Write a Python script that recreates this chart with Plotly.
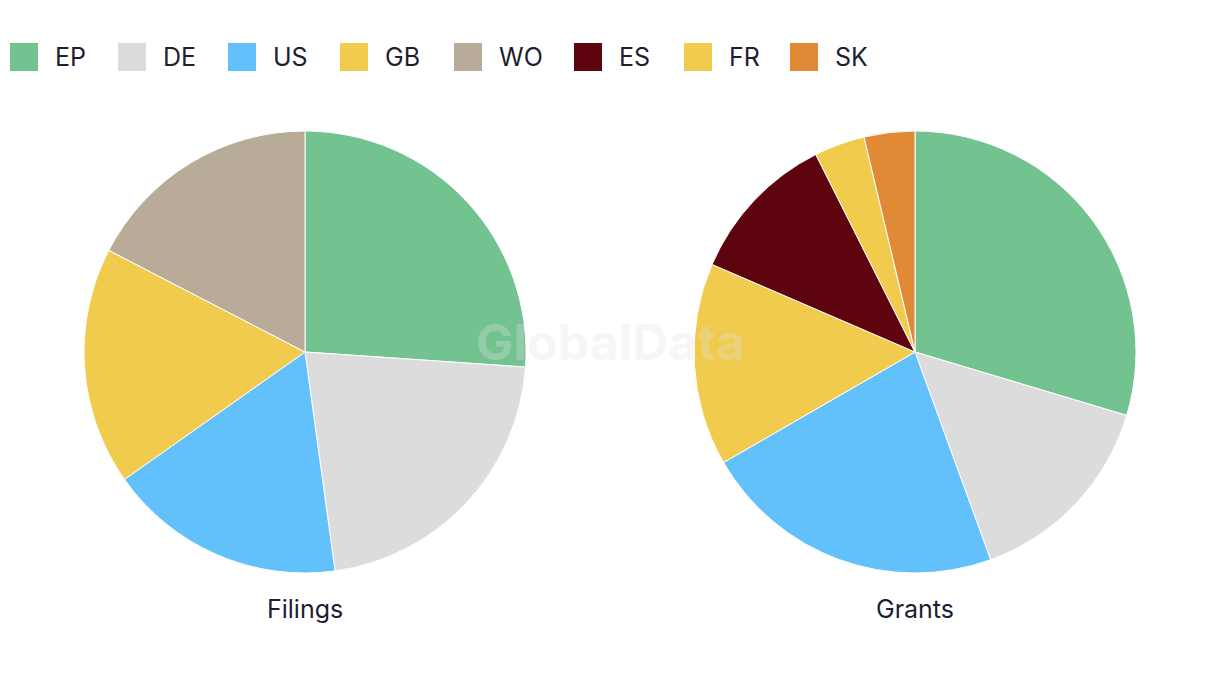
import plotly.graph_objects as go

W, H = 1220, 686
OFF = 8  # page body margin

filings_labels = ["EP", "DE", "US", "GB", "WO"]
filings_values = [6, 5, 4, 4, 4]
grants_labels = ["EP", "DE", "US", "GB", "ES", "FR", "SK"]
grants_values = [8, 4, 6, 4, 3, 1, 1]

legend_labels = ["EP", "DE", "US", "GB", "WO", "ES", "FR", "SK"]
legend_colors = ["#73c391", "#dcdcdc", "#62c0fa", "#f0cb4e", "#b8ab98", "#5e040f", "#f0cb4e", "#e08a36"]
color_map = dict(zip(legend_labels, legend_colors))

FONT = "Inter, Roboto, sans-serif"
TXT = "#1e1e32"

def px_x(p):
    return (p - OFF) / W

def px_y(p):
    return 1 - (p - OFF) / H

fig = go.Figure()

fig.add_trace(go.Pie(
    labels=filings_labels, values=filings_values,
    marker=dict(colors=[color_map[l] for l in filings_labels], line=dict(color="white", width=1)),
    sort=False, direction="clockwise", rotation=0, textinfo="none",
    hoverinfo="label+value", showlegend=False,
    domain=dict(x=[px_x(84), px_x(526)], y=[px_y(573), px_y(131)]),
))
fig.add_trace(go.Pie(
    labels=grants_labels, values=grants_values,
    marker=dict(colors=[color_map[l] for l in grants_labels], line=dict(color="white", width=1)),
    sort=False, direction="clockwise", rotation=0, textinfo="none",
    hoverinfo="label+value", showlegend=False,
    domain=dict(x=[px_x(694), px_x(1136)], y=[px_y(573), px_y(131)]),
))

# custom legend with large square swatches
legend_x = [10, 118, 228, 340, 454, 574, 684, 790]
shapes = []
annotations = []
for lab, col, x0 in zip(legend_labels, legend_colors, legend_x):
    shapes.append(dict(type="rect", xref="paper", yref="paper",
                       x0=px_x(x0), x1=px_x(x0 + 28), y0=px_y(71), y1=px_y(43),
                       fillcolor=col, line=dict(width=0)))
    annotations.append(dict(text=lab, xref="paper", yref="paper", x=px_x(x0 + 43), y=px_y(57),
                            xanchor="left", yanchor="middle", showarrow=False,
                            font=dict(family=FONT, size=25, color=TXT)))

for t, cx in [("Filings", 305), ("Grants", 915)]:
    annotations.append(dict(text=t, xref="paper", yref="paper", x=px_x(cx), y=px_y(609),
                            xanchor="center", yanchor="middle", showarrow=False,
                            font=dict(family=FONT, size=25, color=TXT)))

annotations.append(dict(text="<b>GlobalData</b>", xref="paper", yref="paper", x=px_x(610), y=px_y(342),
                        xanchor="center", yanchor="middle", showarrow=False,
                        font=dict(family=FONT, size=50, color="rgba(225,225,225,0.3)")))

fig.update_layout(
    width=W, height=H,
    margin=dict(l=0, r=0, t=0, b=0),
    paper_bgcolor="white", plot_bgcolor="white",
    shapes=shapes, annotations=annotations,
    font=dict(family=FONT, color=TXT),
)

fig.write_html("out.html")
